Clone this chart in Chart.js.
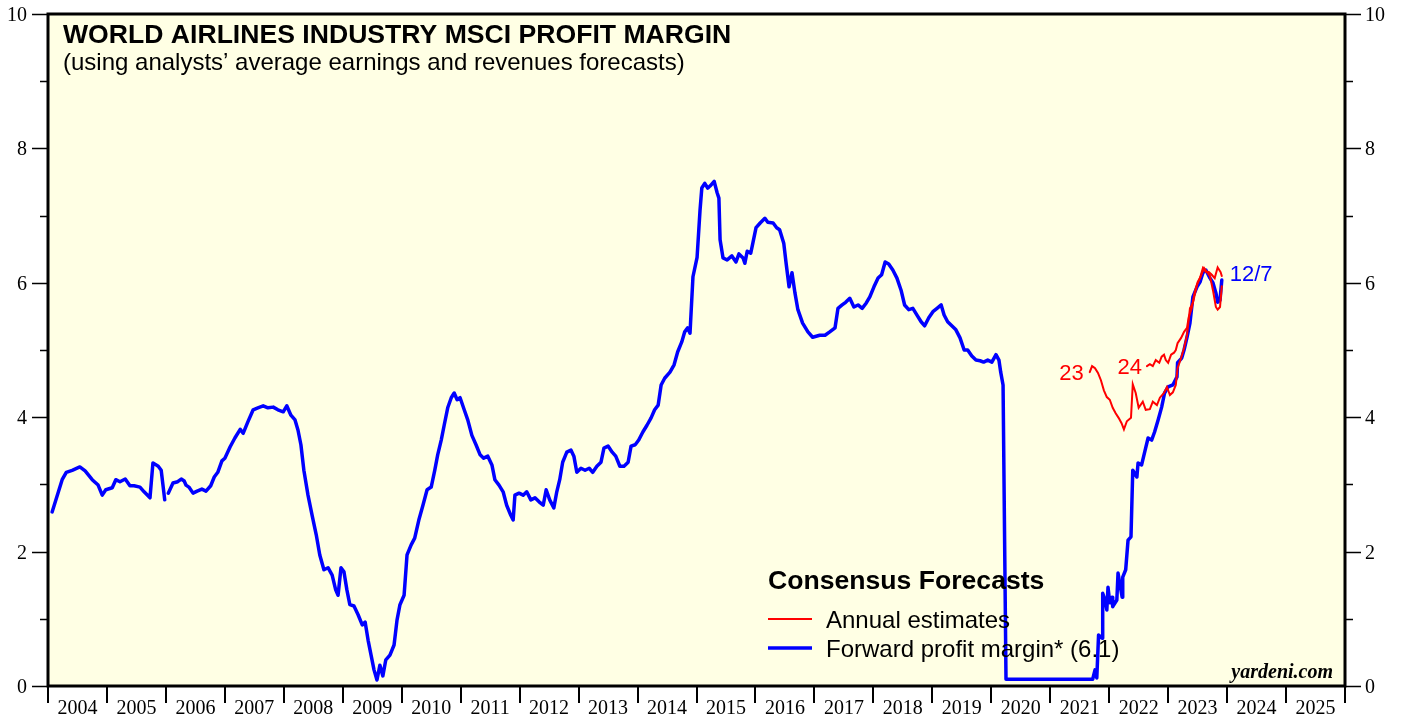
<!DOCTYPE html>
<html>
<head>
<meta charset="utf-8">
<script src="https://cdn.jsdelivr.net/npm/chart.js@4/dist/chart.umd.min.js"></script>
<style>
html,body{margin:0;padding:0;background:#ffffff;}
#wrap{width:1403px;height:715px;position:relative;}
</style>
</head>
<body>
<div id="wrap"><canvas id="c" width="1403" height="715"></canvas></div>
<script>
// ---------------- DATA ----------------
const yearTicks = [2004,2005,2006,2007,2008,2009,2010,2011,2012,2013,2014,2015,2016,2017,2018,2019,2020,2021,2022,2023,2024,2025,2026];
const yearLabels = ["2004","2005","2006","2007","2008","2009","2010","2011","2012","2013","2014","2015","2016","2017","2018","2019","2020","2021","2022","2023","2024","2025"];
const yTicks = [0,1,2,3,4,5,6,7,8,9,10];

const fwdYears = [2004.07,2004.24,2004.31,2004.41,2004.54,2004.63,2004.75,2004.85,2004.92,2004.98,
2005.09,2005.15,2005.22,2005.31,2005.39,2005.46,2005.56,2005.63,2005.73,2005.78,2005.87,2005.92,2005.98,2006.01,
2006.04,2006.12,2006.20,2006.26,2006.31,2006.34,2006.39,2006.46,2006.53,2006.61,2006.68,2006.76,2006.82,2006.88,2006.95,
2007.00,2007.09,2007.17,2007.26,2007.31,2007.39,2007.48,2007.56,2007.65,2007.73,2007.82,2007.90,2007.99,
2008.05,2008.12,2008.19,2008.24,2008.29,2008.34,2008.41,2008.48,2008.55,2008.61,2008.68,2008.75,2008.82,2008.88,2008.92,2008.97,
2009.02,2009.07,2009.12,2009.19,2009.26,2009.33,2009.38,2009.43,2009.48,2009.53,2009.58,2009.63,2009.68,2009.73,2009.80,2009.87,2009.92,2009.97,
2010.04,2010.09,2010.16,2010.22,2010.29,2010.36,2010.43,2010.50,2010.56,2010.61,2010.67,2010.72,2010.78,2010.84,2010.89,2010.94,2010.99,
2011.06,2011.12,2011.19,2011.26,2011.33,2011.39,2011.46,2011.53,2011.58,2011.65,2011.72,2011.78,2011.85,2011.89,2011.92,2011.99,
2012.06,2012.12,2012.19,2012.26,2012.33,2012.40,2012.45,2012.51,2012.58,2012.63,2012.68,2012.73,2012.80,2012.87,2012.92,2012.97,
2013.04,2013.11,2013.18,2013.24,2013.31,2013.38,2013.43,2013.50,2013.57,2013.63,2013.70,2013.77,2013.84,2013.89,2013.96,
2014.02,2014.09,2014.16,2014.23,2014.29,2014.35,2014.40,2014.46,2014.55,2014.62,2014.68,2014.75,2014.80,2014.85,2014.89,2014.94,
2015.01,2015.06,2015.09,2015.14,2015.19,2015.23,2015.30,2015.35,2015.38,2015.40,2015.45,2015.52,2015.60,2015.67,2015.72,2015.79,2015.82,2015.86,2015.92,2015.96,
2016.01,2016.08,2016.16,2016.21,2016.30,2016.36,2016.41,2016.48,2016.52,2016.57,2016.62,2016.67,2016.72,2016.80,2016.89,2016.97,
2017.09,2017.18,2017.26,2017.35,2017.40,2017.47,2017.53,2017.60,2017.67,2017.74,2017.81,2017.88,2017.94,
2018.01,2018.08,2018.14,2018.20,2018.26,2018.33,2018.40,2018.47,2018.53,2018.60,2018.67,2018.74,2018.81,2018.87,2018.94,
2019.01,2019.08,2019.15,2019.20,2019.26,2019.33,2019.40,2019.47,2019.54,2019.60,2019.67,2019.74,2019.81,2019.87,2019.94,
2020.01,2020.08,2020.13,2020.16,2020.20,2020.25,
2021.72,2021.76,2021.79,2021.82,2021.88,2021.89,2021.93,2021.96,2021.98,
2022.01,2022.05,2022.06,2022.13,2022.15,2022.22,2022.23,2022.28,2022.32,2022.37,2022.40,2022.47,2022.49,2022.55,2022.61,2022.66,2022.72,2022.77,2022.83,2022.89,2022.94,
2023.00,2023.08,2023.15,2023.16,2023.23,2023.27,2023.32,2023.37,2023.42,2023.49,2023.54,2023.59,2023.64,2023.71,2023.76,2023.81,2023.84,2023.88,2023.91];

const fwdMargin = [2.59,3.07,3.18,3.21,3.26,3.20,3.07,2.99,2.84,2.92,
2.95,3.07,3.04,3.08,2.98,2.98,2.96,2.89,2.80,3.32,3.27,3.21,2.77,null,
2.87,3.02,3.04,3.08,3.05,2.99,2.96,2.87,2.90,2.93,2.90,2.98,3.11,3.18,3.35,
3.39,3.56,3.69,3.82,3.76,3.93,4.11,4.14,4.17,4.14,4.15,4.11,4.08,
4.17,4.03,3.96,3.81,3.59,3.21,2.84,2.54,2.25,1.95,1.73,1.76,1.65,1.43,1.35,1.76,
1.70,1.43,1.21,1.19,1.06,0.91,0.95,0.68,0.46,0.24,0.09,0.31,0.15,0.39,0.46,0.61,0.98,1.21,
1.35,1.95,2.10,2.20,2.47,2.69,2.92,2.96,3.21,3.44,3.66,3.88,4.14,4.29,4.36,4.26,4.29,
4.11,3.96,3.73,3.59,3.44,3.39,3.42,3.29,3.07,2.99,2.89,2.69,2.54,2.47,2.84,2.87,
2.84,2.89,2.77,2.80,2.74,2.69,2.92,2.77,2.65,2.89,3.07,3.33,3.48,3.51,3.42,3.18,
3.24,3.21,3.24,3.18,3.27,3.33,3.54,3.57,3.48,3.42,3.27,3.27,3.33,3.57,3.59,
3.66,3.78,3.88,3.99,4.11,4.18,4.48,4.58,4.67,4.78,4.97,5.12,5.27,5.33,5.25,6.09,
6.38,7.08,7.41,7.48,7.41,7.44,7.51,7.34,7.26,6.64,6.37,6.34,6.40,6.31,6.43,6.37,6.29,6.47,6.44,6.61,
6.82,6.89,6.96,6.90,6.89,6.82,6.79,6.59,6.29,5.94,6.15,5.85,5.60,5.40,5.27,5.19,
5.22,5.22,5.27,5.33,5.62,5.67,5.71,5.77,5.64,5.67,5.62,5.70,5.79,
5.94,6.07,6.12,6.31,6.28,6.19,6.07,5.89,5.67,5.60,5.62,5.52,5.42,5.36,5.48,
5.57,5.62,5.67,5.52,5.42,5.36,5.30,5.18,5.00,5.00,4.91,4.85,4.84,4.82,4.85,
4.82,4.93,4.85,4.67,4.48,0.10,
0.10,0.24,0.12,0.76,0.71,1.38,1.28,1.13,1.47,
1.24,1.32,1.18,1.28,1.68,1.32,1.62,1.73,2.17,2.22,3.21,3.11,3.32,3.29,3.51,3.69,3.66,3.78,3.96,4.15,4.36,
4.45,4.48,4.60,4.81,4.88,5.00,5.19,5.40,5.79,5.94,6.01,6.15,6.19,6.07,6.00,5.85,5.71,5.74,6.04];

const est23Years = [2021.67,2021.71,2021.76,2021.81,2021.86,2021.91,2021.96,2022.01,2022.06,2022.11,2022.16,2022.21,2022.25,2022.30,2022.37,2022.40,2022.45,2022.50,2022.57,2022.62,2022.69,2022.74,2022.81,2022.86,2022.93,2022.98,2023.03,2023.08,2023.13,2023.16,2023.22,2023.27,2023.32,2023.37,2023.42,2023.49,2023.54,2023.59,2023.64,2023.69,2023.74,2023.79,2023.84,2023.89,2023.91];
const est23Values = [4.67,4.76,4.73,4.66,4.55,4.40,4.30,4.26,4.14,4.06,3.99,3.91,3.82,3.94,3.99,4.49,4.36,4.14,4.23,4.11,4.12,4.23,4.18,4.29,4.36,4.45,4.33,4.37,4.48,4.73,4.88,5.03,5.22,5.62,5.70,5.97,6.07,6.22,6.16,6.16,6.12,6.07,6.23,6.16,6.10];

const est24Years = [2022.64,2022.69,2022.74,2022.79,2022.85,2022.89,2022.93,2022.96,2023.00,2023.05,2023.10,2023.13,2023.16,2023.22,2023.27,2023.32,2023.35,2023.40,2023.45,2023.50,2023.55,2023.61,2023.66,2023.71,2023.76,2023.81,2023.84,2023.88,2023.91];
const est24Values = [4.76,4.79,4.76,4.85,4.81,4.90,4.93,4.85,4.81,4.93,4.96,5.00,5.10,5.18,5.27,5.33,5.49,5.62,5.86,6.01,6.09,6.22,6.16,6.10,5.89,5.64,5.60,5.64,5.95];

// ---------------- BUILD ----------------
const toXY = (xs, ys) => xs.map((x, i) => ({x: x, y: ys[i]}));

const SANS = '"Liberation Sans", Arial, Helvetica, sans-serif';
const SERIF = '"Liberation Serif", "Times New Roman", Times, serif';

const decor = {
  id: 'decor',
  beforeDraw(chart) {
    const {ctx, chartArea: a} = chart;
    ctx.save();
    ctx.fillStyle = '#FFFFE4';
    ctx.fillRect(a.left, a.top, a.right - a.left, a.bottom - a.top);
    ctx.restore();
  },
  afterDraw(chart) {
    const {ctx, chartArea: a} = chart;
    const xs = chart.scales.x, ys = chart.scales.y;
    ctx.save();
    // frame
    ctx.strokeStyle = '#000';
    ctx.lineWidth = 3;
    ctx.strokeRect(a.left, a.top, a.right - a.left, a.bottom - a.top);

    // x ticks
    ctx.lineWidth = 2;
    yearTicks.forEach(yr => {
      const px = Math.round(xs.getPixelForValue(yr));
      ctx.beginPath();
      ctx.moveTo(px, a.bottom);
      ctx.lineTo(px, a.bottom + 17);
      ctx.stroke();
    });
    ctx.fillStyle = '#000';
    ctx.font = '20px ' + SERIF;
    ctx.textAlign = 'center';
    ctx.textBaseline = 'alphabetic';
    yearLabels.forEach((lab, i) => {
      const px = xs.getPixelForValue(yearTicks[i] + 0.5);
      ctx.fillText(lab, px, a.bottom + 28);
    });

    // y ticks both sides
    ctx.lineWidth = 1.5;
    ctx.textBaseline = 'middle';
    yTicks.forEach(v => {
      const py = Math.round(ys.getPixelForValue(v)) + 0.5;
      const major = v % 2 === 0;
      const len = major ? 16 : 8;
      ctx.beginPath();
      ctx.moveTo(a.left - len, py); ctx.lineTo(a.left, py);
      ctx.moveTo(a.right, py); ctx.lineTo(a.right + len, py);
      ctx.stroke();
      if (major) {
        ctx.textAlign = 'right';
        ctx.fillText(String(v), a.left - 21, py + 1);
        ctx.textAlign = 'left';
        ctx.fillText(String(v), a.right + 20, py + 1);
      }
    });

    // titles
    ctx.textAlign = 'left';
    ctx.textBaseline = 'alphabetic';
    ctx.fillStyle = '#000';
    ctx.font = 'bold 26.6px ' + SANS;
    ctx.fillText('WORLD AIRLINES INDUSTRY MSCI PROFIT MARGIN', a.left + 15, a.top + 29);
    ctx.font = '24px ' + SANS;
    ctx.fillText('(using analysts\u2019 average earnings and revenues forecasts)', a.left + 15, a.top + 56);

    // legend
    ctx.font = 'bold 26.6px ' + SANS;
    ctx.fillText('Consensus Forecasts', 768, 589);
    ctx.font = '24px ' + SANS;
    ctx.fillText('Annual estimates', 826, 628);
    ctx.fillText('Forward profit margin* (6.1)', 826, 657);
    ctx.lineCap = 'butt';
    ctx.strokeStyle = '#FF0000'; ctx.lineWidth = 2;
    ctx.beginPath(); ctx.moveTo(768, 619); ctx.lineTo(812, 619); ctx.stroke();
    ctx.strokeStyle = '#0000FF'; ctx.lineWidth = 3.5;
    ctx.beginPath(); ctx.moveTo(768, 648); ctx.lineTo(812, 648); ctx.stroke();

    // series annotations
    ctx.font = '22px ' + SANS;
    ctx.fillStyle = '#FF0000';
    ctx.textAlign = 'right';
    const p23 = {x: xs.getPixelForValue(est23Years[0]), y: ys.getPixelForValue(est23Values[0])};
    ctx.fillText('23', p23.x - 6, p23.y + 8);
    const p24 = {x: xs.getPixelForValue(est24Years[0]), y: ys.getPixelForValue(est24Values[0])};
    ctx.fillText('24', p24.x - 5, p24.y + 8);
    ctx.fillStyle = '#0000FF';
    ctx.textAlign = 'left';
    const pl = {x: xs.getPixelForValue(fwdYears[fwdYears.length - 1]), y: ys.getPixelForValue(fwdMargin[fwdMargin.length - 1])};
    ctx.fillText('12/7', pl.x + 8, pl.y + 1);

    // source
    ctx.fillStyle = '#000';
    ctx.textAlign = 'right';
    ctx.font = 'italic bold 20px ' + SERIF;
    ctx.fillText('yardeni.com', a.right - 12, a.bottom - 8);
    ctx.restore();
  }
};

new Chart(document.getElementById('c'), {
  type: 'line',
  data: {
    datasets: [
      {label: '23', data: toXY(est23Years, est23Values), borderColor: '#FF0000', borderWidth: 2, pointRadius: 0, tension: 0, fill: false},
      {label: '24', data: toXY(est24Years, est24Values), borderColor: '#FF0000', borderWidth: 2, pointRadius: 0, tension: 0, fill: false},
      {label: 'Forward profit margin', data: toXY(fwdYears, fwdMargin), borderColor: '#0000FF', borderWidth: 3.5, pointRadius: 0, tension: 0, fill: false, spanGaps: false, borderJoinStyle: 'round'}
    ]
  },
  options: {
    responsive: false,
    animation: false,
    devicePixelRatio: 1,
    layout: {padding: {left: 48, top: 14, right: 58, bottom: 29}},
    plugins: {legend: {display: false}, tooltip: {enabled: false}, title: {display: false}},
    scales: {
      x: {type: 'linear', min: 2004, max: 2026, display: false},
      y: {type: 'linear', min: 0, max: 10, display: false}
    },
    elements: {line: {borderCapStyle: 'round'}}
  },
  plugins: [decor]
});
</script>
</body>
</html>
